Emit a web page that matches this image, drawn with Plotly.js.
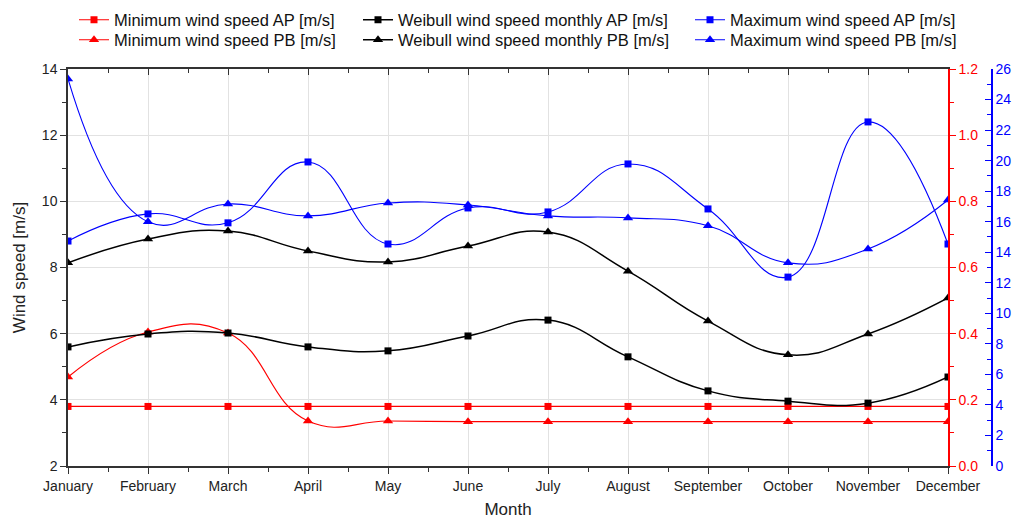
<!DOCTYPE html>
<html><head><meta charset="utf-8">
<script src="https://cdn.plot.ly/plotly-3.0.1.min.js"></script>
<style>html,body{margin:0;padding:0;background:#fff}#chart{width:1012px;height:519px}</style>
</head><body><div id="chart"></div>
<script>
const months = ["January","February","March","April","May","June","July","August","September","October","November","December"];
const minAP = [3.8,3.8,3.8,3.8,3.8,3.8,3.8,3.8,3.8,3.8,3.8,3.8];
const minPB = [4.69,6.05,6.02,3.36,3.36,3.34,3.34,3.34,3.34,3.34,3.34,3.34];
const weibullAP = [5.60,5.99,6.02,5.60,5.48,5.93,6.41,5.30,4.27,3.96,3.90,4.69];
const weibullPB = [8.14,8.86,9.10,8.50,8.17,8.65,9.07,7.89,6.38,5.36,5.99,7.08];
const maxAP = [8.80,9.62,9.35,11.19,8.71,9.80,9.68,11.13,9.77,7.71,12.40,8.71];
const maxPB = [13.70,9.38,9.92,9.56,9.95,9.89,9.56,9.50,9.26,8.14,8.56,10.04];

const xIdx = months.map((m,i)=>i);
const FONT = "Liberation Sans, Arial, sans-serif";
const RED = "#ff0000", BLUE = "#0000ff", BLACK = "#000000";

function tr(name, y, color, symbol, size, width, legend){
  return {x:xIdx, y:y, name:name, type:"scatter", mode:"lines+markers",
    line:{color:color, width:width, shape:"spline", smoothing:1.3},
    marker:{color:color, symbol:symbol, size:size}, legend:legend};
}
function axisHolder(xa, ya){
  return {x:[], y:[], xaxis:xa, yaxis:ya, type:"scatter", mode:"markers", showlegend:false, hoverinfo:"skip"};
}
const data = [
  axisHolder("x2","y"), axisHolder("x","y2"), axisHolder("x","y3"),
  tr("Minimum wind speed AP [m/s]", minAP, RED, "square", 7, 1.2, "legend"),
  tr("Minimum wind speed PB [m/s]", minPB, RED, "triangle-up", 9, 1.2, "legend2"),
  tr("Weibull wind speed monthly AP [m/s]", weibullAP, BLACK, "square", 7, 1.5, "legend3"),
  tr("Weibull wind speed monthly PB [m/s]", weibullPB, BLACK, "triangle-up", 9, 1.5, "legend4"),
  tr("Maximum wind speed AP [m/s]", maxAP, BLUE, "square", 7, 1.1, "legend5"),
  tr("Maximum wind speed PB [m/s]", maxPB, BLUE, "triangle-up", 9, 1.1, "legend6")
];

const W = 1012, H = 519, ML = 68, MR = 20, MT = 69, MB = 53;
const PW = W-ML-MR, PH = H-MT-MB;
const px2x = p => (p-ML)/PW;
const py2y = p => 1 + (MT-p)/PH;
const legFont = {family:FONT, size:16.5, color:"#111"};
function leg(xpx, ypx){
  return {x:px2x(xpx), y:py2y(ypx), xanchor:"left", yanchor:"middle", orientation:"v",
    font:legFont, bgcolor:"rgba(0,0,0,0)", borderwidth:0, tracegroupgap:0, itemwidth:30};
}
const tickFont = {family:FONT, size:14, color:"#222"};

const layout = {
  width:W, height:H, margin:{l:ML, r:MR, t:MT, b:MB, autoexpand:false},
  paper_bgcolor:"#fff", plot_bgcolor:"#fff", showlegend:true,
  legend:leg(74,20), legend2:leg(74,40), legend3:leg(358,20), legend4:leg(358,40), legend5:leg(690,20), legend6:leg(690,40),
  xaxis:{domain:[0,(948-ML)/PW], range:[0,11], tickmode:"array", tickvals:xIdx, ticktext:months,
    ticks:"outside", ticklen:6, tickwidth:1.2, tickcolor:"#333",
    minor:{dtick:0.5, tick0:0, ticks:"outside", ticklen:4, tickcolor:"#333", showgrid:false},
    showgrid:true, gridcolor:"#e2e2e2", gridwidth:1, zeroline:false,
    showline:true, linecolor:"#333", linewidth:1.5, tickfont:tickFont,
    title:{text:"Month", font:{family:FONT, size:17, color:"#222"}, standoff:12}, automargin:false},
  xaxis2:{overlaying:"x", anchor:"y", side:"top", range:[0,11], tickmode:"linear", dtick:1, tick0:0,
    ticks:"inside", ticklen:6, tickwidth:1.2, tickcolor:"#333",
    minor:{dtick:0.5, tick0:0, ticks:"inside", ticklen:4, tickcolor:"#333"},
    showticklabels:false, showgrid:false, zeroline:false, showline:true, linecolor:"#333", linewidth:1.5},
  yaxis:{range:[2,14], tickmode:"linear", tick0:2, dtick:2, ticks:"outside", ticklen:6, tickwidth:1.2, tickcolor:"#333",
    minor:{dtick:1, tick0:2, ticks:"outside", ticklen:4, tickcolor:"#333", showgrid:false},
    showgrid:true, gridcolor:"#e2e2e2", gridwidth:1, zeroline:false,
    showline:true, linecolor:"#333", linewidth:1.5, tickfont:tickFont,
    title:{text:"Wind speed [m/s]", font:{family:FONT, size:17, color:"#222"}, standoff:12}, automargin:false},
  yaxis2:{overlaying:"y", anchor:"x", side:"right", range:[0,1.2], tickmode:"linear", tick0:0, dtick:0.2,
    tickformat:".1f", ticks:"outside", ticklen:6, tickwidth:1.2, tickcolor:RED,
    minor:{dtick:0.1, tick0:0, ticks:"outside", ticklen:4, tickcolor:RED},
    showgrid:false, zeroline:false, showline:true, linecolor:RED, linewidth:1.5,
    tickfont:{family:FONT, size:14, color:RED}, automargin:false},
  yaxis3:{overlaying:"y", anchor:"free", position:(992-ML)/PW, side:"right", range:[0,26], tickmode:"linear", tick0:0, dtick:2,
    ticks:"inside", ticklen:6, tickwidth:1.2, tickcolor:BLUE,
    minor:{dtick:1, tick0:0, ticks:"inside", ticklen:4, tickcolor:BLUE},
    showgrid:false, zeroline:false, showline:true, linecolor:BLUE, linewidth:1.5,
    tickfont:{family:FONT, size:14, color:BLUE}, automargin:false}
};
Plotly.newPlot("chart", data, layout, {displayModeBar:false, responsive:false});
</script></body></html>
